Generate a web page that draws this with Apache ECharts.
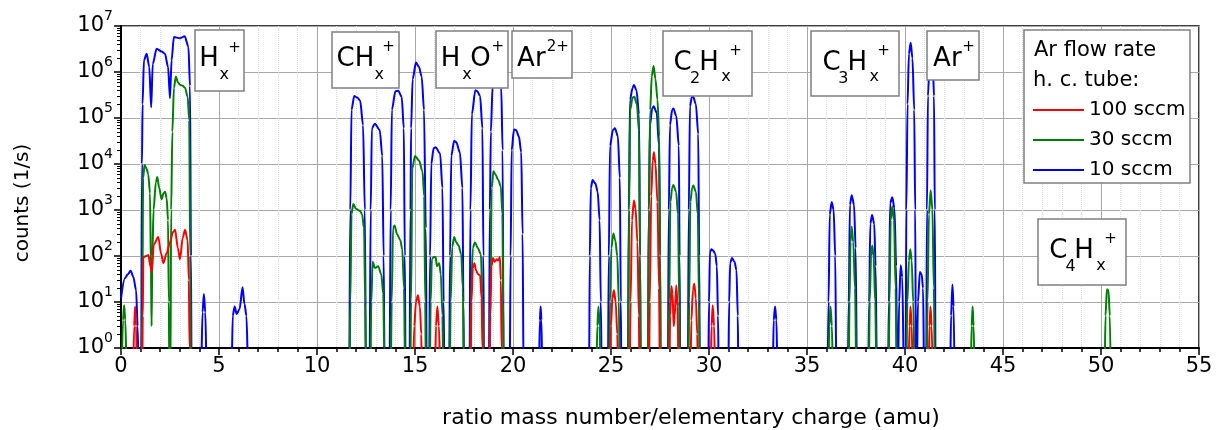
<!DOCTYPE html>
<html>
<head>
<meta charset="utf-8">
<title>Mass spectrum</title>
<script src="https://cdn.jsdelivr.net/npm/echarts@6.0.0/dist/echarts.min.js"></script>
<style>
  html, body { margin: 0; padding: 0; background: #fff; }
  #chart { width: 1220px; height: 430px; }
</style>
</head>
<body>
<div id="chart"></div>
<script>
// series names (legend order)
const seriesNames = ['100 sccm', '30 sccm', '10 sccm']

// [mass/charge, counts per second]; 0.2 = below the axis floor (10^0)
const blueLow = [
  [0, 12], [0.2, 33], [0.35, 40], [0.49, 48], [0.63, 35], [0.77, 18], [0.85, 3], [0.9, 0.2],
  [1.03, 0.2], [1.07, 1e4], [1.1, 2e5], [1.17, 1.8e6], [1.31, 2.5e6], [1.44, 1.3e6], [1.54, 1.7e5], [1.62, 1.5e6],
  [1.82, 3.2e6], [2.07, 2.8e6], [2.24, 2.5e6], [2.4, 1.3e6], [2.5, 2.7e5], [2.58, 1.8e6], [2.7, 5.8e6], [3.0, 5.4e6],
  [3.25, 6e6], [3.44, 3.5e6], [3.52, 5e5], [3.57, 1e2], [3.6, 0.2],
  [4.08, 0.2], [4.16, 6], [4.23, 15], [4.3, 6], [4.38, 0.2],
  [5.64, 0.2], [5.7, 5], [5.8, 8], [5.9, 5.5], [6.05, 7], [6.2, 21], [6.3, 9], [6.4, 5], [6.5, 0.2]
]
const blueCH = [
  [11.64, 0.2], [11.7, 1e3], [11.76, 1.5e5], [11.9, 3e5], [12.05, 2.8e5], [12.2, 2.4e5], [12.35, 7e4], [12.44, 1e3], [12.5, 0.2],
  [12.68, 0.2], [12.74, 1e3], [12.8, 6e4], [12.95, 7.5e4], [13.2, 5.5e4], [13.33, 1.5e4], [13.4, 1e2], [13.45, 0.2],
  [13.7, 0.2], [13.76, 1e3], [13.82, 1.5e5], [14.0, 3.8e5], [14.15, 3.9e5], [14.32, 2.9e5], [14.43, 6e4], [14.48, 1e2], [14.52, 0.2],
  [14.72, 0.2], [14.77, 1e3], [14.8, 6e4], [14.88, 7e5], [15.05, 1.6e6], [15.2, 1.3e6], [15.34, 8e5], [15.46, 1.5e5], [15.55, 4e2], [15.6, 0.2],
  [15.72, 0.2], [15.77, 1e2], [15.83, 1e4], [15.95, 2.2e4], [16.05, 2.3e4], [16.28, 1.7e4], [16.4, 3e3], [16.46, 10], [16.5, 0.2],
  [16.74, 0.2], [16.79, 1e2], [16.85, 1.5e4], [17.0, 3.2e4], [17.1, 3e4], [17.29, 1.8e4], [17.42, 3e3], [17.47, 10], [17.5, 0.2],
  [17.78, 0.2], [17.83, 1e3], [17.9, 1.2e5], [18.08, 4e5], [18.18, 3.8e5], [18.32, 3e5], [18.44, 6e4], [18.49, 1e2], [18.52, 0.2],
  [18.77, 0.2], [18.82, 1e3], [18.87, 5e4], [18.96, 5e5], [19.1, 1.3e6], [19.25, 1.2e6], [19.4, 4.5e5], [19.47, 2e4], [19.52, 0.2],
  [19.83, 0.2], [19.88, 1e2], [19.93, 2e4], [20.05, 5.6e4], [20.15, 5.5e4], [20.3, 4e4], [20.42, 1.8e4], [20.49, 3e2], [20.54, 0.2],
  [21.32, 0.2], [21.37, 4], [21.41, 8], [21.45, 4], [21.5, 0.2]
]
const blueC2 = [
  [23.88, 0.2], [23.92, 1e2], [23.97, 3e3], [24.06, 4.5e3], [24.2, 3.8e3], [24.32, 2.5e3], [24.42, 6e2], [24.48, 10], [24.53, 0.2],
  [24.84, 0.2], [24.89, 1e2], [24.95, 2.5e4], [25.1, 5.5e4], [25.2, 6e4], [25.35, 4e4], [25.45, 5e3], [25.5, 10], [25.53, 0.2],
  [25.86, 0.2], [25.91, 1e3], [25.97, 2.5e5], [26.1, 4.5e5], [26.17, 5.2e5], [26.3, 4e5], [26.43, 1.2e5], [26.48, 1e2], [26.52, 0.2],
  [26.88, 0.2], [26.93, 1e3], [26.99, 7e4], [27.1, 1.6e5], [27.18, 1.8e5], [27.33, 1.3e5], [27.45, 2.5e4], [27.5, 1e2], [27.53, 0.2],
  [27.9, 0.2], [27.95, 1e3], [28.01, 7e4], [28.12, 1.5e5], [28.18, 1.6e5], [28.33, 1.1e5], [28.46, 2.5e4], [28.5, 1e2], [28.53, 0.2],
  [28.92, 0.2], [28.97, 1e3], [29.03, 1.8e5], [29.12, 2.8e5], [29.18, 3e5], [29.33, 2e5], [29.45, 4.5e4], [29.5, 1e2], [29.53, 0.2],
  [29.96, 0.2], [30.0, 10], [30.05, 120], [30.12, 140], [30.22, 130], [30.32, 110], [30.4, 60], [30.46, 5], [30.5, 0.2],
  [30.98, 0.2], [31.03, 10], [31.08, 70], [31.17, 90], [31.3, 75], [31.4, 50], [31.47, 5], [31.5, 0.2],
  [33.25, 0.2], [33.3, 4], [33.37, 8], [33.44, 4], [33.5, 0.2]
]
const blueC3 = [
  [36.05, 0.2], [36.1, 10], [36.16, 8e2], [36.26, 1.5e3], [36.36, 1e3], [36.44, 1e2], [36.5, 0.2],
  [37.08, 0.2], [37.13, 10], [37.19, 1.3e3], [37.28, 2.1e3], [37.4, 1.3e3], [37.48, 150], [37.55, 0.2],
  [38.12, 0.2], [38.17, 10], [38.23, 5e2], [38.32, 7.8e2], [38.43, 5e2], [38.5, 60], [38.57, 0.2],
  [39.13, 0.2], [39.18, 10], [39.24, 1.4e3], [39.35, 1.9e3], [39.46, 1.1e3], [39.55, 60], [39.6, 0.2],
  [39.64, 0.2], [39.7, 10], [39.78, 63], [39.86, 35], [39.95, 0.2],
  [40.03, 0.2], [40.07, 1e3], [40.13, 2e5], [40.2, 2.5e6], [40.29, 4.3e6], [40.38, 2e6], [40.47, 1.5e5], [40.52, 1e3], [40.56, 0.2],
  [40.6, 0.2], [40.66, 10], [40.76, 45], [40.85, 40], [40.92, 20], [40.98, 0.2],
  [41.08, 0.2], [41.12, 1e3], [41.17, 3e5], [41.25, 1.5e6], [41.33, 2e6], [41.42, 1.5e6], [41.48, 3e5], [41.52, 1e3], [41.56, 0.2],
  [42.3, 0.2], [42.35, 5], [42.42, 24], [42.48, 8], [42.53, 0.2]
]

const greenLow = [
  [0.03, 0.2], [0.1, 4], [0.16, 8.5], [0.22, 4], [0.3, 0.2],
  [1.04, 0.2], [1.09, 10], [1.13, 5e3], [1.2, 9.5e3], [1.3, 8e3], [1.39, 6e3], [1.48, 2.3e3], [1.53, 50], [1.56, 3],
  [1.6, 1e2], [1.66, 1e3], [1.78, 4e3], [1.85, 5.2e3], [1.95, 3e3], [2.07, 1.7e3], [2.17, 2.3e3], [2.25, 2.5e3],
  [2.33, 1.8e3], [2.4, 6e2], [2.44, 10], [2.47, 0.2],
  [2.52, 0.2], [2.56, 1e3], [2.62, 5e4], [2.7, 4.5e5], [2.8, 8e5], [2.9, 6e5], [3.01, 5.3e5], [3.15, 5e5],
  [3.27, 4.5e5], [3.4, 2.9e5], [3.48, 9e4], [3.53, 1e2], [3.57, 0.2]
]
const greenCH = [
  [11.66, 0.2], [11.7, 10], [11.76, 8e2], [11.85, 1.35e3], [12.0, 1.05e3], [12.2, 9.5e2], [12.3, 8e2], [12.4, 4e2], [12.46, 10], [12.5, 0.2],
  [12.72, 0.2], [12.77, 10], [12.84, 75], [12.95, 55], [13.12, 60], [13.28, 40], [13.38, 15], [13.43, 1], [13.46, 0.2],
  [13.76, 0.2], [13.81, 10], [13.88, 4e2], [13.95, 4.6e2], [14.1, 2.9e2], [14.25, 2.2e2], [14.35, 140], [14.44, 20], [14.5, 0.2],
  [14.76, 0.2], [14.8, 10], [14.86, 8e3], [15.0, 1.5e4], [15.2, 1.2e4], [15.38, 7e3], [15.47, 2e3], [15.52, 10], [15.56, 0.2],
  [15.75, 0.2], [15.8, 10], [15.86, 85], [15.95, 95], [16.05, 95], [16.12, 60], [16.23, 70], [16.32, 40], [16.4, 5], [16.45, 0.2],
  [16.77, 0.2], [16.82, 10], [16.9, 160], [17.0, 260], [17.1, 200], [17.22, 170], [17.36, 110], [17.44, 20], [17.5, 0.2],
  [17.8, 0.2], [17.85, 10], [17.95, 150], [18.06, 200], [18.2, 150], [18.36, 110], [18.44, 15], [18.5, 0.2],
  [18.8, 0.2], [18.85, 10], [18.91, 3e3], [19.0, 7e3], [19.1, 6e3], [19.25, 4.5e3], [19.38, 3.2e3], [19.46, 8e2], [19.5, 10], [19.53, 0.2]
]
const greenC2 = [
  [24.25, 0.2], [24.3, 3], [24.36, 8], [24.42, 3], [24.48, 0.2],
  [24.9, 0.2], [24.95, 10], [25.02, 150], [25.12, 310], [25.22, 220], [25.32, 100], [25.4, 10], [25.45, 0.2],
  [25.87, 0.2], [25.92, 1e3], [25.98, 1.5e5], [26.1, 2.8e5], [26.19, 2.9e5], [26.32, 2e5], [26.43, 5e4], [26.48, 1e2], [26.52, 0.2],
  [26.88, 0.2], [26.93, 1e3], [27.0, 1.5e5], [27.08, 8e5], [27.17, 1.35e6], [27.27, 7e5], [27.37, 2.5e5], [27.46, 4e4], [27.51, 1e2], [27.54, 0.2],
  [27.92, 0.2], [27.97, 10], [28.03, 1.5e3], [28.12, 3e3], [28.18, 3.5e3], [28.32, 2.5e3], [28.42, 8e2], [28.48, 10], [28.52, 0.2],
  [28.94, 0.2], [28.99, 10], [29.05, 1.5e3], [29.14, 3e3], [29.2, 3.4e3], [29.33, 2.5e3], [29.43, 8e2], [29.49, 10], [29.53, 0.2]
]
const greenC3 = [
  [36.08, 0.2], [36.14, 3], [36.2, 8], [36.27, 3], [36.33, 0.2],
  [37.12, 0.2], [37.17, 10], [37.22, 200], [37.28, 430], [37.36, 200], [37.45, 20], [37.52, 0.2],
  [38.15, 0.2], [38.2, 10], [38.27, 100], [38.33, 170], [38.4, 100], [38.48, 10], [38.55, 0.2],
  [39.16, 0.2], [39.21, 10], [39.27, 600], [39.35, 1.2e3], [39.44, 600], [39.52, 20], [39.58, 0.2],
  [40.06, 0.2], [40.12, 10], [40.2, 80], [40.27, 140], [40.34, 80], [40.42, 10], [40.5, 0.2],
  [41.1, 0.2], [41.15, 10], [41.22, 800], [41.31, 2.7e3], [41.4, 1e3], [41.47, 20], [41.53, 0.2],
  [43.35, 0.2], [43.4, 3], [43.45, 8], [43.5, 3], [43.56, 0.2],
  [50.18, 0.2], [50.23, 5], [50.3, 19], [50.38, 18], [50.45, 5], [50.5, 0.2]
]

const redLow = [
  [0.62, 0.2], [0.67, 3], [0.72, 8], [0.77, 3], [0.82, 0.2],
  [1.08, 0.2], [1.11, 5], [1.14, 95], [1.3, 100], [1.4, 105], [1.5, 60], [1.56, 45], [1.68, 180], [1.9, 260],
  [2.05, 110], [2.16, 70], [2.33, 115], [2.5, 200], [2.65, 330], [2.76, 370], [2.9, 150], [3.01, 85],
  [3.15, 250], [3.27, 370], [3.4, 220], [3.46, 30], [3.5, 1], [3.53, 0.2]
]
const redCH = [
  [14.9, 0.2], [14.96, 3], [15.05, 10], [15.15, 14], [15.25, 8], [15.32, 2], [15.36, 0.2],
  [16.02, 0.2], [16.07, 3], [16.14, 8], [16.22, 3], [16.3, 0.2],
  [17.83, 0.2], [17.88, 10], [17.95, 55], [18.03, 70], [18.12, 48], [18.22, 40], [18.32, 38], [18.4, 12], [18.44, 1], [18.47, 0.2],
  [18.79, 0.2], [18.84, 5], [18.9, 60], [18.98, 90], [19.07, 75], [19.17, 85], [19.25, 80], [19.33, 95], [19.38, 30], [19.42, 1], [19.45, 0.2]
]
const redC2 = [
  [24.95, 0.2], [25.0, 3], [25.07, 12], [25.15, 18], [25.24, 10], [25.32, 2], [25.37, 0.2],
  [25.95, 0.2], [26.0, 10], [26.07, 600], [26.17, 1.6e3], [26.25, 1.1e3], [26.35, 200], [26.42, 5], [26.46, 0.2],
  [26.93, 0.2], [26.98, 10], [27.05, 2e3], [27.13, 1.2e4], [27.19, 1.8e4], [27.27, 1e4], [27.37, 1.5e3], [27.45, 20], [27.5, 0.2],
  [27.97, 0.2], [28.02, 5], [28.08, 22], [28.14, 15], [28.2, 3], [28.25, 5], [28.33, 23], [28.4, 8], [28.45, 0.2],
  [29.05, 0.2], [29.1, 4], [29.18, 18], [29.25, 25], [29.33, 12], [29.4, 2], [29.44, 0.2],
  [30.08, 0.2], [30.13, 3], [30.19, 8.5], [30.26, 3], [30.32, 0.2]
]
const redC3 = [
  [40.18, 0.2], [40.23, 3], [40.28, 8], [40.34, 3], [40.4, 0.2],
  [41.2, 0.2], [41.25, 3], [41.3, 8], [41.36, 3], [41.42, 0.2]
]

// minor ticks of the log axis: 2..9 in each decade
const minorMantissas = [2, 3, 4, 5, 6, 7, 8, 9]
const decades = [1, 10, 100, 1e3, 1e4, 1e5, 1e6]

const FONT = '"DejaVu Sans", "Noto Sans", sans-serif'

// peak group labels: box [x, y, w, h] and text pieces [text, kind, x, y]
// kind: m = main, s = subscript, p = superscript
const peakLabels = [
  { box: [195, 30, 49, 61], parts: [['H', 'm', 199.2, 59.7], ['x', 's', 219.5, 75], ['+', 'p', 228.2, 48]] },
  { box: [332, 32, 67, 56], parts: [['CH', 'm', 336.5, 59.7], ['x', 's', 374.5, 74.5], ['+', 'p', 382.2, 47.5]] },
  { box: [436, 31, 72, 57], parts: [['H', 'm', 440.8, 59.7], ['x', 's', 462.2, 74.5], ['O', 'm', 470.2, 59.7], ['+', 'p', 491.5, 47.5]] },
  { box: [512, 31, 60, 47], parts: [['Ar', 'm', 517.1, 59.7], ['2+', 'p', 546.8, 46.7]] },
  { box: [663, 31, 89, 65], parts: [['C', 'm', 673.5, 63], ['2', 's', 690, 78.6], ['H', 'm', 699.2, 63], ['x', 's', 721.2, 77.1], ['+', 'p', 729.2, 50.8]] },
  { box: [811, 31, 88, 65], parts: [['C', 'm', 822.5, 63], ['3', 's', 838.3, 78.6], ['H', 'm', 847.5, 63], ['x', 's', 869.5, 77.1], ['+', 'p', 877.2, 50.8]] },
  { box: [927, 31, 52, 49], parts: [['Ar', 'm', 933.1, 58.8], ['+', 'p', 962.2, 46.7]] },
  { box: [1038, 219, 88, 66], parts: [['C', 'm', 1049.2, 251.3], ['4', 's', 1065.5, 267], ['H', 'm', 1074.2, 251.3], ['x', 's', 1096.2, 265.5], ['+', 'p', 1104.2, 239.2]] }
]

const partSize = { m: 26, s: 16, p: 15 }

function buildGraphics () {
  const els = []
  peakLabels.forEach(lab => {
    els.push({
      type: 'rect',
      z: 10,
      shape: { x: lab.box[0], y: lab.box[1], width: lab.box[2], height: lab.box[3] },
      style: { fill: '#fff', stroke: '#808080', lineWidth: 1.5 }
    })
    lab.parts.forEach(p => {
      els.push({
        type: 'text',
        z: 11,
        style: {
          text: p[0], x: p[2], y: p[3],
          fontSize: partSize[p[1]], fontFamily: FONT, fill: '#000',
          align: 'left', verticalAlign: 'middle'
        }
      })
    })
  })
  // legend frame and its title
  els.push({
    type: 'rect',
    z: 10,
    shape: { x: 1024, y: 30, width: 166, height: 153 },
    style: { fill: '#fff', stroke: '#808080', lineWidth: 1.5 }
  })
  els.push({
    type: 'text', z: 11,
    style: { text: 'Ar flow rate', x: 1034, y: 50.5, fontSize: 21, fontFamily: FONT, fill: '#000', align: 'left', verticalAlign: 'middle' }
  })
  els.push({
    type: 'text', z: 11,
    style: { text: 'h. c. tube:', x: 1033, y: 80.5, fontSize: 21, fontFamily: FONT, fill: '#000', align: 'left', verticalAlign: 'middle' }
  })
  // axis titles
  els.push({
    type: 'text', z: 11,
    x: 23, y: 203, rotation: Math.PI / 2,
    style: { text: 'counts (1/s)', x: 0, y: 0, fontSize: 20, fontFamily: FONT, fill: '#000', align: 'center', verticalAlign: 'middle' }
  })
  els.push({
    type: 'text', z: 11,
    style: { text: 'ratio mass number/elementary charge (amu)', x: 691, y: 418, fontSize: 22, fontFamily: FONT, fill: '#000', align: 'center', verticalAlign: 'middle' }
  })
  return els
}

const minorTicks = []
decades.forEach(d => {
  minorMantissas.forEach(m => minorTicks.push(m * d))
})

const chart = echarts.init(document.getElementById('chart'), null, { renderer: 'canvas' })

function lineSeries (name, color, z, data) {
  return {
    name: name,
    type: 'line',
    data: data,
    symbol: 'none',
    smooth: 0.3,
    smoothMonotone: 'x',
    clip: true,
    z: z,
    color: color,
    lineStyle: { color: color, width: 2 }
  }
}

chart.setOption({
  animation: false,
  backgroundColor: '#fff',
  textStyle: { fontFamily: FONT },
  grid: {
    left: 121,
    right: 21,
    top: 26,
    bottom: 82,
    show: true,
    borderColor: '#000',
    borderWidth: 1.5,
    outerBoundsMode: 'none'
  },
  legend: {
    data: seriesNames,
    orient: 'vertical',
    left: 1033,
    top: 100,
    padding: 0,
    itemGap: 10,
    itemWidth: 51,
    itemHeight: 2,
    icon: 'rect',
    z: 20,
    selectedMode: false,
    textStyle: { fontSize: 20, fontFamily: FONT, color: '#000' }
  },
  xAxis: {
    type: 'value',
    min: 0,
    max: 55,
    interval: 5,
    axisLine: { onZero: false, lineStyle: { color: '#000', width: 2 } },
    axisTick: { length: 7, lineStyle: { color: '#000', width: 1.5 } },
    minorTick: { show: true, splitNumber: 5, length: 4, lineStyle: { color: '#000', width: 1.5 } },
    splitLine: { show: true, lineStyle: { color: '#a8a8a8', width: 1 } },
    minorSplitLine: { show: true, lineStyle: { color: '#dcdcdc', width: 1, type: 'dotted' } },
    axisLabel: { fontSize: 21, color: '#000', margin: 8, fontFamily: FONT }
  },
  yAxis: [
    {
      type: 'log',
      logBase: 10,
      min: 1,
      max: 1e7,
      axisLine: { show: true, onZero: false, lineStyle: { color: '#000', width: 2 } },
      axisTick: { show: true, length: 7, lineStyle: { color: '#000', width: 1.5 } },
      splitLine: { show: true, lineStyle: { color: '#a8a8a8', width: 1 } },
      axisLabel: {
        margin: 8,
        color: '#000',
        formatter: function (v) {
          return '{b|10}{e|' + Math.round(Math.log10(v)) + '}'
        },
        rich: {
          b: { fontSize: 21, lineHeight: 34, fontFamily: FONT, color: '#000' },
          e: { fontSize: 14, lineHeight: 14, verticalAlign: 'top', fontFamily: FONT, color: '#000' }
        }
      }
    },
    {
      type: 'log',
      logBase: 10,
      min: 1,
      max: 1e7,
      position: 'left',
      offset: 0,
      axisLine: { show: false },
      axisLabel: { show: false },
      splitLine: { show: false },
      axisTick: { show: true, length: 4, customValues: minorTicks, lineStyle: { color: '#000', width: 1 } }
    }
  ],
  graphic: { elements: buildGraphics() },
  series: [
    lineSeries('100 sccm', '#ff0000', 5, redLow.concat(redCH, redC2, redC3)),
    lineSeries('30 sccm', '#008000', 4, greenLow.concat(greenCH, greenC2, greenC3)),
    lineSeries('10 sccm', '#0000ff', 3, blueLow.concat(blueCH, blueC2, blueC3))
  ]
})
</script>
</body>
</html>
